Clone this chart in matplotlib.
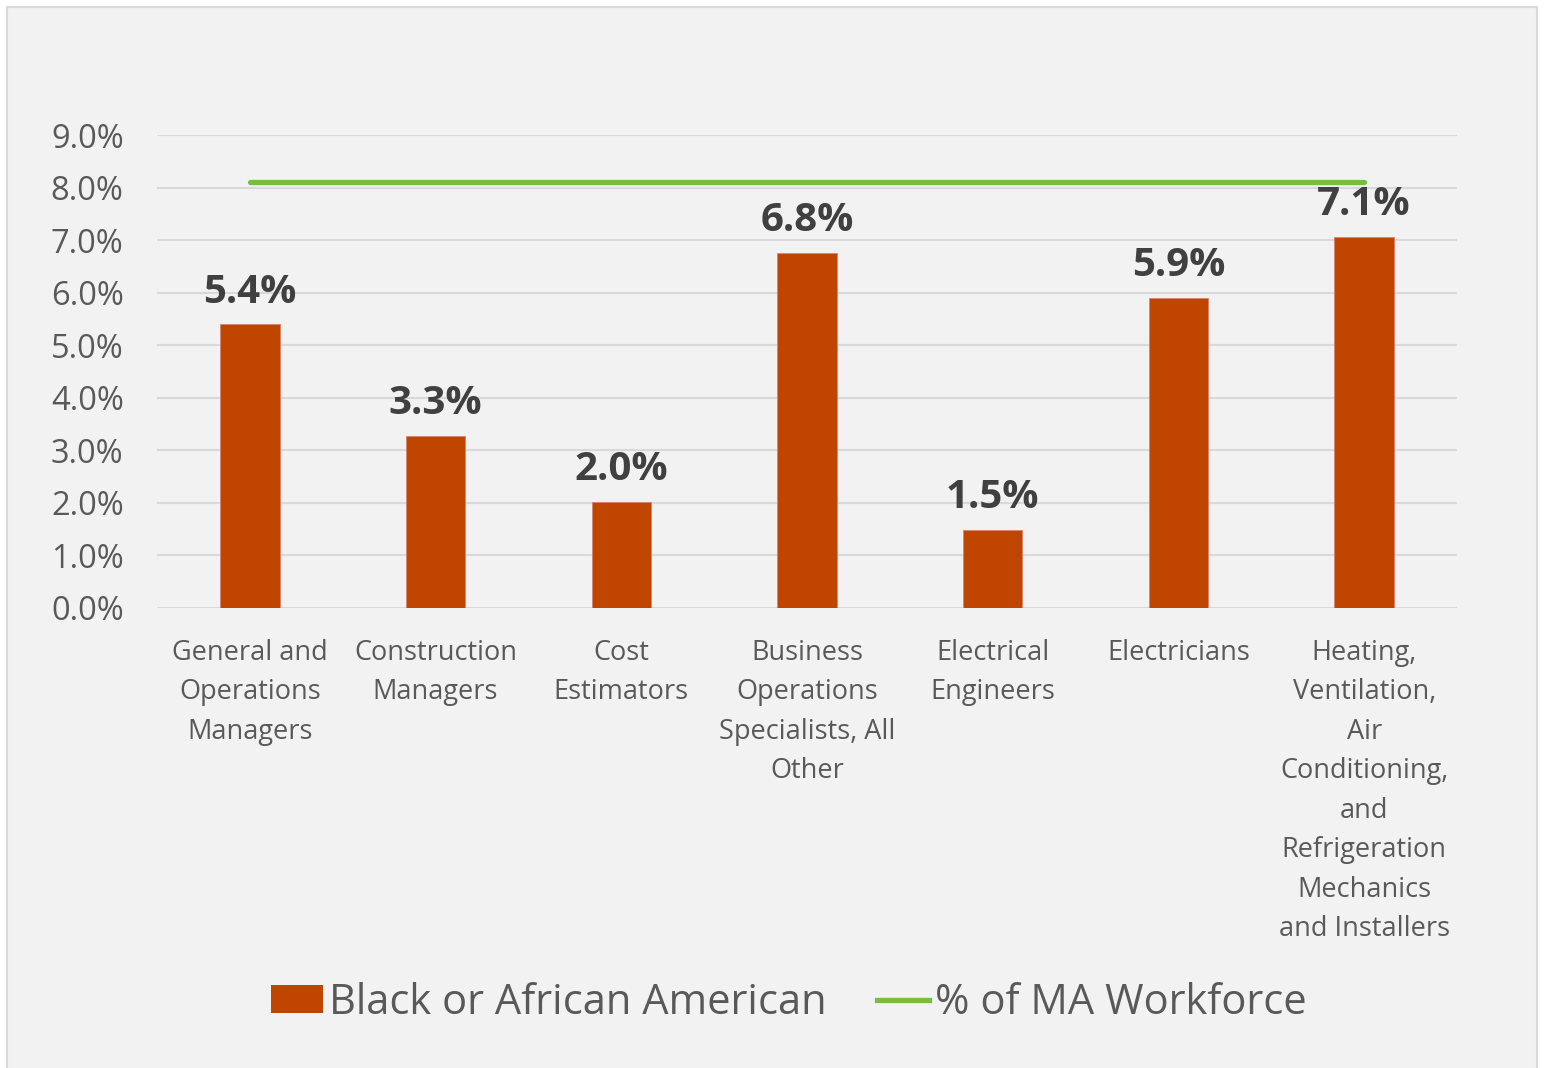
import matplotlib
matplotlib.use("Agg")
import matplotlib.pyplot as plt
from matplotlib.patches import Rectangle
from matplotlib.lines import Line2D
from matplotlib.ticker import FuncFormatter

categories = ["General and\nOperations\nManagers", "Construction\nManagers", "Cost\nEstimators",
              "Business\nOperations\nSpecialists, All\nOther", "Electrical\nEngineers", "Electricians",
              "Heating,\nVentilation,\nAir\nConditioning,\nand\nRefrigeration\nMechanics\nand Installers"]
black_share = [5.4, 3.28, 2.02, 6.76, 1.49, 5.9, 7.06]
ma_workforce = [8.1] * 7
yticks = [0, 1, 2, 3, 4, 5, 6, 7, 8, 9]

plt.rcParams['font.family'] = ['Open Sans', 'DejaVu Sans']

W, H = 1544, 1068
fig = plt.figure(figsize=(W / 100, H / 100), dpi=100)
fig.patch.set_facecolor('white')
fig.patches.append(Rectangle((7 / W, -0.01), (1537 - 7) / W, (H - 7) / H + 0.01,
                             transform=fig.transFigure, facecolor='#f2f2f2',
                             edgecolor='#d9d9d9', linewidth=1.5, zorder=-5))

ax = fig.add_axes([157 / W, (H - 608) / H, 1300 / W, (608 - 135) / H])
ax.set_zorder(2)
ax.set_facecolor('none')
x = list(range(len(categories)))
bars = ax.bar(x, black_share, width=0.32, color='#c04500', edgecolor='#d9826a', linewidth=0.6, zorder=3)
ax.plot(x, ma_workforce, color='#77bd43', linewidth=3.8, solid_capstyle='round', zorder=4)

for xi, v in zip(x, black_share):
    ax.annotate(f"{v:.1f}%", (xi, v), xytext=(0, 9), textcoords='offset points',
                ha='center', va='bottom', fontsize=29, fontweight='bold', color='#404040', zorder=5)

ax.set_xlim(-0.5, len(categories) - 0.5)
ax.set_ylim(0, 9)
ax.set_yticks(yticks)
ax.yaxis.set_major_formatter(FuncFormatter(lambda v, p: f"{v:.1f}%"))
ax.set_xticks(x)
ax.set_xticklabels(categories, fontsize=19.5, color='#595959', linespacing=1.55)
ax.tick_params(axis='y', labelsize=23.5, labelcolor='#595959', length=0, pad=24)
ax.tick_params(axis='x', length=0, pad=22)
ax.grid(axis='y', color='#d9d9d9', linewidth=1.5, zorder=0)
ax.set_axisbelow(True)
for s in ax.spines.values():
    s.set_visible(False)

handles = [Rectangle((0, 0), 1, 1, facecolor='#c04500'),
           Line2D([0], [0], color='#77bd43', linewidth=3.8)]
leg = fig.legend(handles, ["Black or African American", "% of MA Workforce"], loc='center',
                 bbox_to_anchor=(789 / W, (H - 1003) / H), ncol=2, frameon=False, fontsize=30,
                 labelcolor='#595959', handlelength=1.25, handleheight=0.65, handletextpad=0.15,
                 columnspacing=1.2)
leg.set_zorder(3)

fig.savefig("out.png", dpi=100, facecolor='white')
